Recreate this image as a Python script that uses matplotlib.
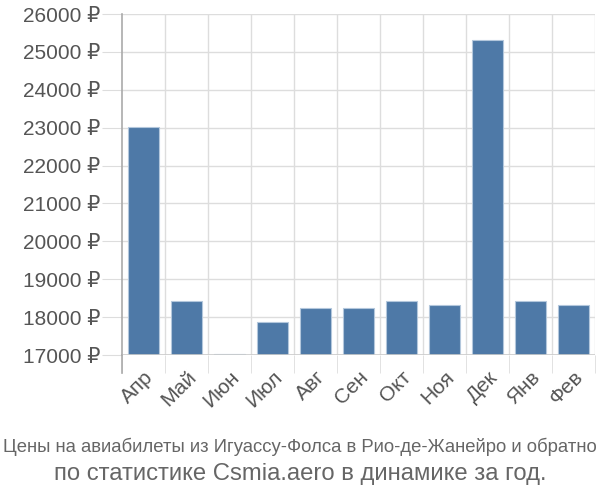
import matplotlib
matplotlib.use("Agg")
import matplotlib.pyplot as plt
import numpy as np

months = ["Апр", "Май", "Июн", "Июл", "Авг", "Сен", "Окт", "Ноя", "Дек", "Янв", "Фев"]
prices = [23030, 18430, 17025, 17870, 18230, 18230, 18430, 18330, 25310, 18430, 18330]
y_ticks = [17000, 18000, 19000, 20000, 21000, 22000, 23000, 24000, 25000, 26000]

plt.rcParams['font.family'] = ['Liberation Sans', 'DejaVu Sans']

fig = plt.figure(figsize=(6, 5), dpi=100)
ax = fig.add_axes([0.203, 0.29, 0.789, 0.682])

x = np.arange(len(months))
ax.bar(x, prices, width=0.72, color="#4e79a7", edgecolor="#b3c7dc", linewidth=0.8, zorder=3)

ax.set_xlim(-0.5, len(months) - 0.5)
ax.set_ylim(17000, 26000)
ax.set_yticks(y_ticks)
ax.set_yticklabels([f"{v} ₽" for v in y_ticks], fontsize=15, color="#555555")
ax.set_xticks(x)
ax.set_xticklabels(months, rotation=45, ha="right", rotation_mode="anchor", fontsize=15, color="#555555")

# grid on category boundaries
for b in np.arange(-0.5, len(months), 1.0)[1:]:
    ax.axvline(b, color="#dddddd", lw=1, zorder=1)
for v in y_ticks:
    ax.axhline(v, color="#dddddd", lw=1, zorder=1)

for s in ["top", "right", "bottom"]:
    ax.spines[s].set_visible(False)
ax.spines["left"].set_color("#aaaaaa")
ax.spines["left"].set_linewidth(1.2)
ax.axhline(17000, color="#cccccc", lw=1.2, zorder=4)
ax.plot([-0.5, -0.5], [16520, 17000], color="#aaaaaa", lw=1.2, clip_on=False, zorder=5)

ax.tick_params(axis="y", length=14.5, color="#dddddd", pad=1)
ax.tick_params(axis="x", length=0, pad=9)
ax.set_xticks(np.arange(-0.5, len(months), 1.0), minor=True)
ax.tick_params(axis="x", which="minor", length=13, color="#dddddd")

fig.text(0.5, 0.106, "Цены на авиабилеты из Игуассу-Фолса в Рио-де-Жанейро и обратно",
         ha="center", va="center", fontsize=13.3, color="#666666")
fig.text(0.5, 0.052, "по статистике Csmia.aero в динамике за год.",
         ha="center", va="center", fontsize=17.2, color="#666666")

fig.savefig("out.png", dpi=100)
